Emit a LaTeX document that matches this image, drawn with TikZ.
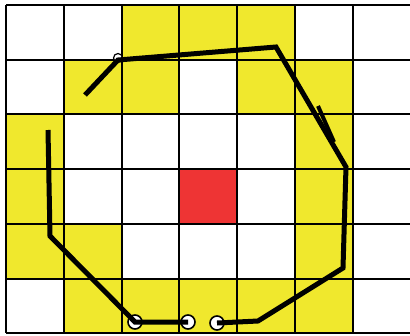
\documentclass[tikz,border=0pt]{standalone}
\usepackage{tikz}
\definecolor{cellyellow}{RGB}{240,232,45}
\definecolor{cellred}{RGB}{238,52,52}
\tikzset{
  gridline/.style={line width=2pt,black},
  pathline/.style={line width=5pt,black,line join=miter},
  marker/.style={circle,draw=black,fill=white,line width=1.6pt,minimum size=14pt,inner sep=0pt}
}
\begin{document}
\begin{tikzpicture}[x=1pt,y=-1pt]
		  \useasboundingbox (0,0) rectangle (410,335);
		  \def\cw{57.8}
		  \def\ch{54.7}
		  \foreach \c/\r in {2/0,3/0,4/0,1/1,2/1,4/1,5/1,0/2,5/2,0/3,5/3,0/4,1/4,5/4,1/5,2/5,3/5,4/5,5/5}
		    \fill[cellyellow] (6+\c*\cw,5+\r*\ch) rectangle ++(\cw,\ch);
		  \fill[cellred] (6+3*\cw,5+3*\ch) rectangle ++(\cw,\ch);
		  \foreach \c in {0,...,7}
		    \draw[gridline] (6+\c*\cw,5) -- (6+\c*\cw,333);
		  \foreach \r in {0,...,6}
		    \draw[gridline] (6,5+\r*\ch) -- (412,5+\r*\ch);
		  \node[marker,minimum size=9pt,line width=1.2pt] (m0) at (118,58) {};
		  \node[marker] (m1) at (135,322) {};
		  \node[marker] (m2) at (188,322) {};
		  \node[marker] (m3) at (217,323) {};
		  \coordinate (s1) at (85,95);
		  \coordinate (v1) at (118,60);
		  \coordinate (v2) at (276,47);
		  \coordinate (v3) at (346,167);
		  \coordinate (v4) at (343,268);
		  \coordinate (v5) at (258,321);
		  \coordinate (l1) at (48,130);
		  \coordinate (l2) at (50,236);
		  \coordinate (t1) at (318,106);
		  \coordinate (t2) at (334,142);
		  \draw[pathline] (s1) -- (v1) -- (v2) -- (v3) -- (v4) -- (v5) -- (m3.center);
		  \draw[pathline] (l1) -- (l2) -- (m1.center) -- (m2.center);
		  \draw[pathline,line width=4pt] (t1) -- (t2);
		\end{tikzpicture}
\end{document}
